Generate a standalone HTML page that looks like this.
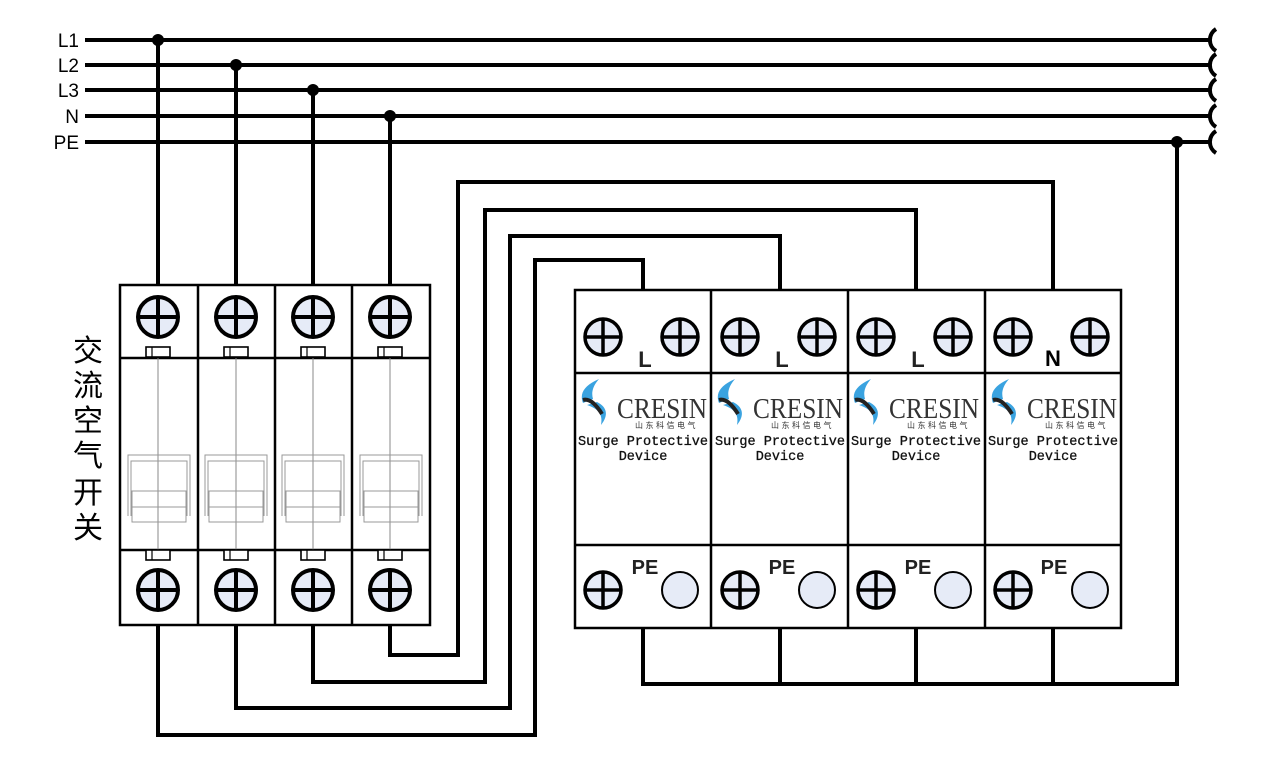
<!DOCTYPE html>
<html><head><meta charset="utf-8"><style>
html,body{margin:0;padding:0;background:#fff;}
svg{display:block}
</style></head><body>
<svg width="1263" height="771" viewBox="0 0 1263 771" xmlns="http://www.w3.org/2000/svg">
<defs>
<g id="scr"><circle r="20" fill="#e6ebf7" stroke="#000" stroke-width="4"/><line x1="-20" y1="0" x2="20" y2="0" stroke="#000" stroke-width="4"/><line x1="0" y1="-20" x2="0" y2="20" stroke="#000" stroke-width="4"/></g>
<g id="scrs"><circle r="18" fill="#e6ebf7" stroke="#000" stroke-width="3.5"/><line x1="-18" y1="0" x2="18" y2="0" stroke="#000" stroke-width="3.5"/><line x1="0" y1="-18" x2="0" y2="18" stroke="#000" stroke-width="3.5"/></g>
<g id="tab"><rect x="-12" y="0" width="24" height="10" fill="#fff" stroke="#000" stroke-width="1.6"/><line x1="-6" y1="0" x2="-6" y2="10" stroke="#000" stroke-width="1.2"/></g>
<g id="handle" fill="none" stroke="#999" stroke-width="1">
<path d="M-31 71 V10 H31 V71"/><path d="M-28 71 V16 H28 V71"/>
<rect x="-27" y="46" width="54" height="31"/><line x1="-27" y1="62" x2="27" y2="62"/>
</g>
<g id="logo">
<path d="M22 2 C8 8 2 16 6 26 L16 22 C14 15 16 9 22 2Z" fill="#3aa3e0"/>
<path d="M10 28 L20 25 C30 30 32 38 24 48 C26 38 22 32 10 28Z" fill="#3aa3e0"/>
<path d="M6 23 C13 21 20 29 25 37" stroke="#222" stroke-width="4" fill="none"/>
<text x="40" y="41" font-family="Liberation Serif,serif" font-size="28" fill="#333" textLength="90" lengthAdjust="spacingAndGlyphs">CRESIN</text>
<text x="58" y="51" font-family="Liberation Sans,'Noto Sans CJK SC',sans-serif" font-size="8" fill="#333" letter-spacing="2.5">山东科信电气</text>
</g>
</defs>

<g stroke="#000" stroke-width="4" fill="none">
<line x1="85" y1="40" x2="1210" y2="40"/>
<line x1="85" y1="65" x2="1210" y2="65"/>
<line x1="85" y1="90" x2="1210" y2="90"/>
<line x1="85" y1="116" x2="1210" y2="116"/>
<line x1="85" y1="142" x2="1210" y2="142"/>
<path d="M1216 29 A13 13 0 0 0 1216 51"/>
<path d="M1216 54 A13 13 0 0 0 1216 76"/>
<path d="M1216 79 A13 13 0 0 0 1216 101"/>
<path d="M1216 105 A13 13 0 0 0 1216 127"/>
<path d="M1216 131 A13 13 0 0 0 1216 153"/>
<line x1="158" y1="40" x2="158" y2="285"/>
<line x1="236" y1="65" x2="236" y2="285"/>
<line x1="313" y1="90" x2="313" y2="285"/>
<line x1="390" y1="116" x2="390" y2="285"/>
<path d="M158 625 V735 H535 V260 H643 V290"/>
<path d="M236 625 V708 H510 V236 H780 V290"/>
<path d="M313 625 V682 H485 V210 H916 V290"/>
<path d="M390 625 V655 H458 V182 H1053 V290"/>
<path d="M643 628 V684 H1177 V142"/>
<line x1="780" y1="628" x2="780" y2="684"/>
<line x1="916" y1="628" x2="916" y2="684"/>
<line x1="1053" y1="628" x2="1053" y2="684"/>
</g>
<g fill="#000">
<circle cx="158" cy="40" r="6"/><circle cx="236" cy="65" r="6"/><circle cx="313" cy="90" r="6"/><circle cx="390" cy="116" r="6"/><circle cx="1177" cy="142" r="6"/>
</g>
<g font-family="Liberation Sans,sans-serif" font-size="19" text-anchor="end" fill="#000">
<text x="79" y="47">L1</text><text x="79" y="72">L2</text><text x="79" y="97">L3</text><text x="79" y="123">N</text><text x="79" y="149">PE</text>
</g>

<g font-family="Liberation Sans,'Noto Sans CJK SC',sans-serif" font-size="30" text-anchor="middle" fill="#000">
<text x="88" y="361">交</text><text x="88" y="396">流</text><text x="88" y="431">空</text><text x="88" y="466">气</text><text x="88" y="503">开</text><text x="88" y="538">关</text>
</g>

<g stroke="#000" stroke-width="2.5" fill="none">
<rect x="120" y="285" width="310" height="340" fill="#fff"/>
<line x1="198" y1="285" x2="198" y2="625"/><line x1="275" y1="285" x2="275" y2="625"/><line x1="352" y1="285" x2="352" y2="625"/>
<line x1="120" y1="358" x2="430" y2="358"/><line x1="120" y1="550" x2="430" y2="550"/>
</g>
<g stroke="#888" stroke-width="1">
<line x1="158" y1="358" x2="158" y2="560"/><line x1="236" y1="358" x2="236" y2="560"/><line x1="313" y1="358" x2="313" y2="560"/><line x1="390" y1="358" x2="390" y2="560"/>
</g>
<use href="#scr" x="158" y="317"/><use href="#scr" x="236" y="317"/><use href="#scr" x="313" y="317"/><use href="#scr" x="390" y="317"/>
<use href="#scr" x="158" y="590"/><use href="#scr" x="236" y="590"/><use href="#scr" x="313" y="590"/><use href="#scr" x="390" y="590"/>
<use href="#tab" x="158" y="347"/><use href="#tab" x="236" y="347"/><use href="#tab" x="313" y="347"/><use href="#tab" x="390" y="347"/>
<use href="#tab" x="158" y="550"/><use href="#tab" x="236" y="550"/><use href="#tab" x="313" y="550"/><use href="#tab" x="390" y="550"/>
<use href="#handle" x="159" y="445"/><use href="#handle" x="236" y="445"/><use href="#handle" x="313" y="445"/><use href="#handle" x="391" y="445"/>

<g stroke="#000" stroke-width="2.5" fill="none">
<rect x="575" y="290" width="546" height="338" fill="#fff"/>
<line x1="711" y1="290" x2="711" y2="628"/><line x1="848" y1="290" x2="848" y2="628"/><line x1="985" y1="290" x2="985" y2="628"/>
<line x1="575" y1="373" x2="1121" y2="373"/><line x1="575" y1="545" x2="1121" y2="545"/>
</g>
<g id="m1">
<use href="#scrs" x="603" y="337"/><use href="#scrs" x="680" y="337"/>
<use href="#scrs" x="603" y="590"/><circle cx="680" cy="590" r="18" fill="#e6ebf7" stroke="#000" stroke-width="2"/>
</g>
<use href="#m1" x="137"/><use href="#m1" x="273"/><use href="#m1" x="410"/>
<g font-family="Liberation Sans,sans-serif" font-weight="bold" fill="#222">
<text x="645" y="367" font-size="22" text-anchor="middle">L</text>
<text x="782" y="367" font-size="22" text-anchor="middle">L</text>
<text x="918" y="367" font-size="22" text-anchor="middle">L</text>
<text x="1053" y="366" font-size="22" text-anchor="middle" fill="#000">N</text>
<text x="645" y="574" font-size="20" text-anchor="middle">PE</text>
<text x="782" y="574" font-size="20" text-anchor="middle">PE</text>
<text x="918" y="574" font-size="20" text-anchor="middle">PE</text>
<text x="1054" y="574" font-size="20" text-anchor="middle">PE</text>
</g>
<use href="#logo" x="577" y="377"/><use href="#logo" x="713" y="377"/><use href="#logo" x="849" y="377"/><use href="#logo" x="987" y="377"/>
<g font-family="Liberation Mono,monospace" font-size="13.5" fill="#111" text-anchor="middle" stroke="#111" stroke-width="0.3">
<text x="643" y="445" textLength="130" lengthAdjust="spacingAndGlyphs">Surge Protective</text><text x="643" y="460">Device</text>
<text x="780" y="445" textLength="130" lengthAdjust="spacingAndGlyphs">Surge Protective</text><text x="780" y="460">Device</text>
<text x="916" y="445" textLength="130" lengthAdjust="spacingAndGlyphs">Surge Protective</text><text x="916" y="460">Device</text>
<text x="1053" y="445" textLength="130" lengthAdjust="spacingAndGlyphs">Surge Protective</text><text x="1053" y="460">Device</text>
</g>
</svg>
</body></html>
